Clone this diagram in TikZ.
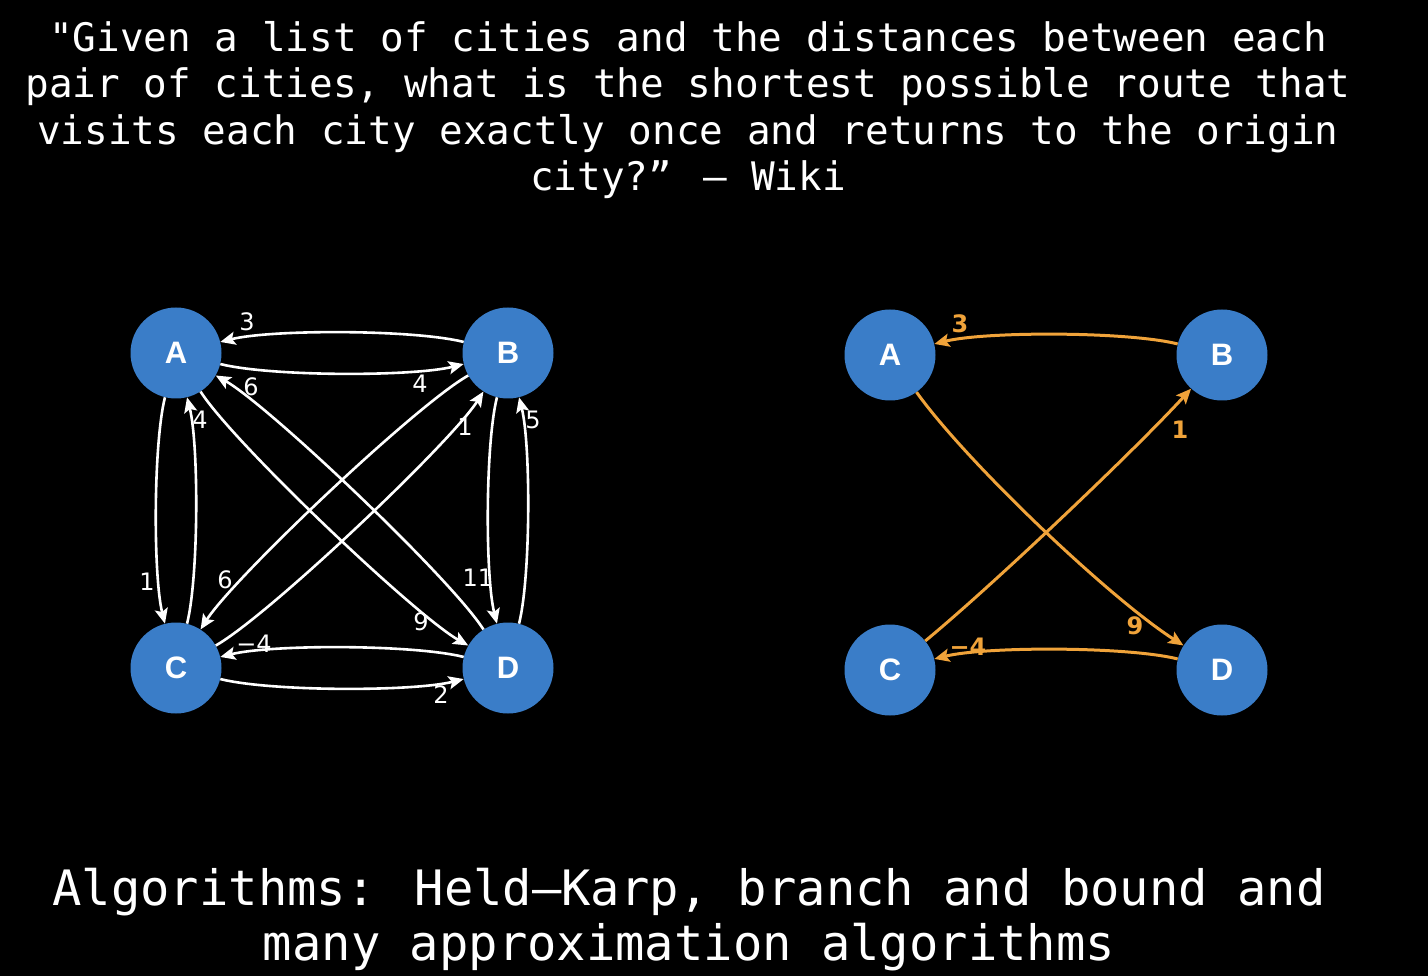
\documentclass[tikz,border=0pt]{standalone}
\usepackage{fontspec}
\setmainfont{DejaVu Sans}
\newfontfamily\monofont{DejaVu Sans Mono}
\newfontfamily\cityfont{Liberation Sans}
\usetikzlibrary{arrows.meta}
\definecolor{nodeblue}{RGB}{58,125,200}
\definecolor{pathorange}{RGB}{240,163,58}
\begin{document}
\begin{tikzpicture}[x=1pt,y=-1pt,
  city/.style={circle,fill=nodeblue,minimum size=91pt,inner sep=0pt,text=white,
    font=\cityfont\bfseries\fontsize{31}{31}\selectfont},
  tip/.style={-{Stealth[length=15pt,width=13pt,inset=3pt]}},
  wedge/.style={draw=white,line width=2.6pt,tip,bend right=14,looseness=0.55},
  oedge/.style={draw=pathorange,line width=3pt,tip,bend right=14,looseness=0.55},
  diag/.style={looseness=0.42},
  wlab/.style={text=white,font=\fontsize{24}{24}\selectfont,inner sep=0pt},
  olab/.style={text=pathorange,font=\bfseries\fontsize{24}{24}\selectfont,inner sep=0pt},
  qline/.style={text=white,anchor=base,inner sep=0pt,font=\monofont\fontsize{39.3}{46}\selectfont},
  aline/.style={text=white,anchor=base,inner sep=0pt,font=\monofont\fontsize{48.8}{56}\selectfont}
]
\fill[black] (0,0) rectangle (1428,976);
\useasboundingbox (0,0) rectangle (1428,976);

% quote
\node[qline] (q1) at (688,52) {"Given a list of cities and the distances between each};
\node[qline] (q2) at (688,98) {pair of cities, what is the shortest possible route that};
\node[qline] (q3) at (688,145) {visits each city exactly once and returns to the origin};
\node[qline] (q4) at (688,191) {city?” – Wiki};

% left graph
\node[city] (A) at (176,353) {A};
\node[city] (B) at (508,353) {B};
\node[city] (C) at (176,668) {C};
\node[city] (D) at (508,668) {D};

\draw[wedge] (B) to (A);
\draw[wedge] (A) to (B);
\draw[wedge] (A) to (C);
\draw[wedge] (C) to (A);
\draw[wedge] (B) to (D);
\draw[wedge] (D) to (B);
\draw[wedge] (D) to (C);
\draw[wedge] (C) to (D);
\draw[wedge,diag] (A) to (D);
\draw[wedge,diag] (D) to (A);
\draw[wedge,diag] (B) to (C);
\draw[wedge,diag] (C) to (B);

\node[wlab] (lBA) at (247,322) {3};
\node[wlab] (lAB) at (420,384) {4};
\node[wlab] (lDA) at (251,387) {6};
\node[wlab] (lCA) at (200,420) {4};
\node[wlab] (lCB) at (465,427) {1};
\node[wlab] (lDB) at (533,420) {5};
\node[wlab] (lAC) at (147,582) {1};
\node[wlab] (lBC) at (225,580) {6};
\node[wlab] (lBD) at (478,578) {11};
\node[wlab] (lAD) at (421,622) {9};
\node[wlab] (lDC) at (254,644) {−4};
\node[wlab] (lCD) at (441,695) {2};

% right graph
\node[city] (A2) at (890,355) {A};
\node[city] (B2) at (1222,355) {B};
\node[city] (C2) at (890,670) {C};
\node[city] (D2) at (1222,670) {D};

\draw[oedge] (B2) to (A2);
\draw[oedge,bend right=11,looseness=0.6] (A2) to (D2);
\draw[oedge,bend right=4,looseness=0.6] (C2) to (B2);
\draw[oedge] (D2) to (C2);

\node[olab] (rBA) at (960,324) {3};
\node[olab] (rCB) at (1180,430) {1};
\node[olab] (rAD) at (1135,626) {9};
\node[olab] (rDC) at (968,647) {−4};

% bottom
\node[aline] (b1) at (689,905) {Algorithms: Held–Karp, branch and bound and};
\node[aline] (b2) at (689,960) {many approximation algorithms};
\end{tikzpicture}
\end{document}
